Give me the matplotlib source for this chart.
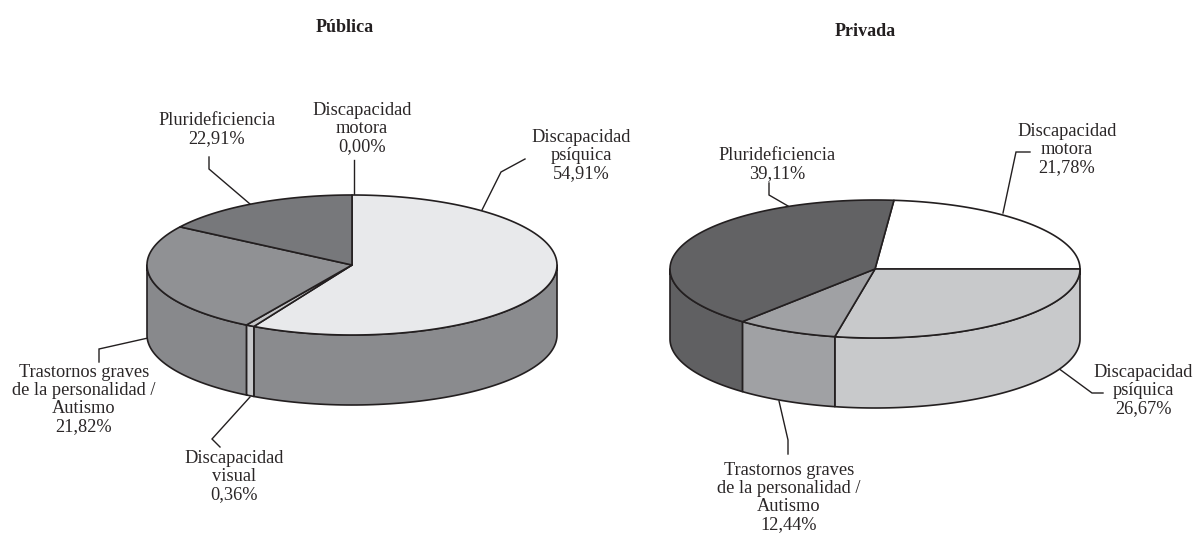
import numpy as np
import matplotlib
matplotlib.use("Agg")
import matplotlib.pyplot as plt
from matplotlib.patches import Polygon

W, H = 1196, 533
FONT = "Liberation Serif"
INK = "#231f20"

# Published percentages, as printed beside each slice
cat_publica = ["Discapacidad\nmotora", "Discapacidad\npsíquica", "Discapacidad\nvisual",
               "Trastornos graves\nde la personalidad /\nAutismo", "Pluridef" + "iciencia"]
val_publica = ["0,00%", "54,91%", "0,36%", "21,82%", "22,91%"]
cat_privada = ["Discapacidad\nmotora", "Discapacidad\npsíquica",
               "Trastornos graves\nde la personalidad /\nAutismo", "Pluridef" + "iciencia"]
val_privada = ["21,78%", "26,67%", "12,44%", "39,11%"]

arc_publica = [0.0, 208.6, 2.4, 92.0, 57.0]
arc_privada = [84.7, 101.3, 29.0, 145.0]
start_publica = 0.0
start_privada = 5.3

col_top_publica = ["#e8e9eb", "#e8e9eb", "#c6c7c9", "#909194", "#77787b"]
col_side_publica = ["#8a8b8e", "#8a8b8e", "#c6c7c9", "#88898c", "#77787b"]
col_top_privada = ["#ffffff", "#c8c9cb", "#a0a1a4", "#626264"]
col_side_privada = ["#ffffff", "#c8c9cb", "#a0a1a4", "#606062"]

fig = plt.figure(figsize=(W / 100, H / 100), dpi=100, facecolor="white")
ax = fig.add_axes([0, 0, 1, 1])
ax.set_xlim(0, W)
ax.set_ylim(H, 0)
ax.axis("off")


def pie3d(cx, cy, rx, ry, depth, arcs, start, tops, sides):
    def pt(t):
        t = np.radians(t)
        return cx + rx * np.sin(t), cy - ry * np.cos(t)

    edges = start + np.concatenate([[0], np.cumsum(arcs)])
    # side walls: only the front half (90..270 deg) is visible
    for a, b, c in zip(edges[:-1], edges[1:], sides):
        for s in (0, 360):
            lo, hi = max(a + s, 90), min(b + s, 270)
            if hi > lo:
                t = np.linspace(lo, hi, 80)
                x, y = pt(t)
                poly = np.column_stack([np.r_[x, x[::-1]], np.r_[y, (y + depth)[::-1]]])
                ax.add_patch(Polygon(poly, closed=True, fc=c, ec=INK, lw=1.2, joinstyle="round", zorder=2))
    # top faces
    for a, b, c in zip(edges[:-1], edges[1:], tops):
        if b - a <= 0:
            continue
        t = np.linspace(a, b, 120)
        x, y = pt(t)
        poly = np.column_stack([np.r_[cx, x], np.r_[cy, y]])
        ax.add_patch(Polygon(poly, closed=True, fc=c, ec=INK, lw=1.2, joinstyle="round", zorder=3))


pie3d(352, 265, 205, 70, 70, arc_publica, start_publica, col_top_publica, col_side_publica)
pie3d(875, 269, 205, 69, 70, arc_privada, start_privada, col_top_privada, col_side_privada)


def leader(xs, ys):
    ax.plot(xs, ys, color=INK, lw=1.0, solid_joinstyle="miter", zorder=1)


def label(x, y, txt, val):
    ax.text(x, y, txt + "\n" + val, ha="center", va="top", family=FONT, fontsize=13.2,
            color="#2a2627", linespacing=1.08, zorder=5)


def title(x, y, s):
    ax.text(x, y, s, ha="center", va="center", family=FONT, fontsize=13.0, weight="bold", color=INK)


title(345, 28, "Pública")
title(865, 32, "Privada")

# Pública
label(362, 102, cat_publica[0], val_publica[0])
label(581, 129, cat_publica[1], val_publica[1])
label(84, 364, cat_publica[3], val_publica[3])
label(234, 450, cat_publica[2], val_publica[2])
label(217, 112, cat_publica[4], val_publica[4])
leader([354, 354], [196, 160])
leader([482, 501, 525], [210, 172, 159])
leader([250, 209, 209], [204, 169, 157])
leader([148, 99, 99], [338, 349, 362])
leader([250, 212, 220], [397, 439, 447])

# Privada
label(1067, 123, cat_privada[0], val_privada[0])
label(1143, 364, cat_privada[1], val_privada[1])
label(789, 462, cat_privada[2], val_privada[2])
label(777, 147, cat_privada[3], val_privada[3])
leader([1003, 1016, 1030], [213, 152, 152])
leader([1058, 1092, 1103], [368, 393, 393])
leader([779, 788, 788], [401, 440, 454])
leader([788, 769, 769], [206, 195, 183])

fig.savefig("out.png", dpi=100, facecolor="white")
